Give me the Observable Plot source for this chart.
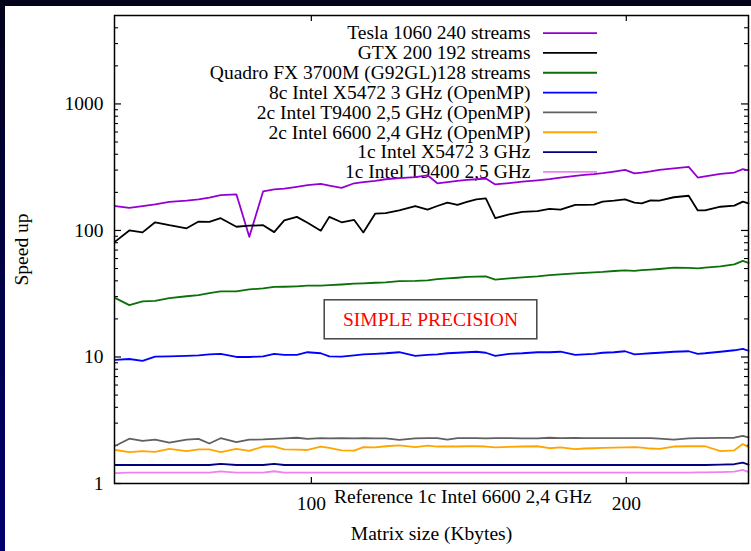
<!DOCTYPE html>
<html><head><meta charset="utf-8">
<script src="https://cdn.jsdelivr.net/npm/d3@7"></script>
<script src="https://cdn.jsdelivr.net/npm/@observablehq/plot@0.6"></script>
<style>
html,body{margin:0;padding:0;background:#fff;}
#wrap{position:relative;width:751px;height:551px;overflow:hidden;background:#fff;}
#topband{position:absolute;left:0;top:0;width:751px;height:6px;background:#03031a;z-index:2}
#leftband{position:absolute;left:0;top:0;width:5px;height:551px;background:linear-gradient(to bottom,#03031a,#000070);z-index:2}
#chart svg{display:block}
</style></head><body>
<div id="wrap"><div id="chart"></div><div id="topband"></div><div id="leftband"></div></div>
<script>
// ---- data ----
const matrixSizeKB = [37.8, 42.2, 46.4, 50.4, 54.9, 60.4, 64.2, 67.6, 71.2, 76.2, 80.3, 84.7, 88.2, 91.4, 95.4, 98.8, 103.0, 105.7, 109.6, 113.6, 116.5, 120.3, 123.6, 127.9, 133.0, 136.9, 140.0, 143.2, 146.4, 149.4, 152.4, 155.4, 158.4, 162.8, 167.0, 171.8, 175.6, 179.1, 183.8, 186.7, 189.7, 192.5, 196.1, 199.6, 202.6, 204.9, 207.7, 210.5, 215.1, 219.8, 222.7, 225.0, 229.9, 234.3, 237.0, 238.8];

const tesla1060 = [156,151,156,161,168,172,176,182,190,193,89,204,211,214,221,228,233,226,217,236,241,247,254,259,264,273,236,241,247,251,254,257,231,237,243,249,255,262,270,275,279,284,292,301,283,287,293,301,310,318,262,268,280,287,305,299];
const gtx200 = [82,100,96.5,116,110,104,117.6,117,125,107,109,110,97,120,128,115,99.6,128,116,121,96.5,136,137,144,156,146,156,166,159,168,176,179,125,134,140,142,148,146,159,159.5,160,169,172,176,166,164,173,172,183,188,144,144,154,157,169,164];
const quadroFX = [29.2,25.7,27.5,27.8,29.2,30.2,30.8,32.0,33.0,33.0,34.2,34.9,35.8,35.9,36.2,36.6,36.7,37.0,37.4,38.0,38.2,38.6,38.9,39.7,39.9,40.3,41.2,41.8,42.3,42.9,43.1,43.4,40.8,41.8,42.6,43.4,44.3,45.0,45.8,46.2,46.6,47.0,47.8,48.4,48.0,48.5,49.0,49.6,50.8,50.6,50.1,50.8,52.1,54.0,57.5,55.4];
const x5472_8c = [9.5,9.64,9.3,10.05,10.1,10.2,10.3,10.5,10.6,10.0,10.0,10.1,10.6,10.4,10.4,10.9,10.7,10.1,10.05,10.3,10.5,10.6,10.7,10.9,10.2,10.4,10.5,10.7,10.8,10.9,11.0,10.8,10.2,10.6,10.7,10.9,10.9,11.0,10.4,10.5,10.6,10.8,10.9,11.1,10.5,10.6,10.7,10.8,11.0,11.1,10.6,10.7,11.0,11.3,11.6,11.2];
const t9400_2c = [1.99,2.26,2.17,2.22,2.10,2.22,2.25,2.07,2.28,2.12,2.22,2.23,2.25,2.27,2.30,2.25,2.28,2.27,2.28,2.27,2.28,2.27,2.27,2.21,2.27,2.28,2.28,2.22,2.28,2.28,2.28,2.27,2.28,2.28,2.27,2.27,2.30,2.28,2.29,2.28,2.28,2.28,2.28,2.28,2.28,2.28,2.28,2.26,2.22,2.27,2.28,2.28,2.29,2.30,2.38,2.32];
const i6600_2c = [1.84,1.77,1.80,1.78,1.88,1.80,1.86,1.86,1.77,1.88,1.81,1.96,1.96,1.86,1.85,1.84,1.96,1.91,1.83,1.82,1.94,1.93,1.97,2.00,1.94,1.99,1.96,1.96,1.96,1.97,1.97,1.96,1.93,1.95,1.96,1.97,1.90,1.93,1.87,1.89,1.90,1.91,1.92,1.93,1.94,1.92,1.89,1.88,1.96,1.97,1.97,1.97,1.80,1.83,2.05,1.93];
const x5472_1c = [1.40,1.40,1.40,1.40,1.40,1.40,1.40,1.40,1.43,1.40,1.40,1.40,1.43,1.40,1.40,1.40,1.40,1.40,1.40,1.40,1.40,1.40,1.40,1.40,1.40,1.40,1.40,1.40,1.40,1.40,1.40,1.40,1.40,1.40,1.40,1.40,1.40,1.40,1.40,1.40,1.40,1.40,1.40,1.40,1.40,1.40,1.40,1.40,1.40,1.40,1.40,1.40,1.41,1.42,1.46,1.41];
const t9400_1c = [1.21,1.22,1.22,1.22,1.22,1.22,1.22,1.22,1.245,1.22,1.22,1.22,1.25,1.22,1.22,1.22,1.22,1.22,1.22,1.22,1.22,1.22,1.22,1.22,1.22,1.22,1.22,1.22,1.22,1.22,1.22,1.22,1.22,1.22,1.22,1.22,1.22,1.22,1.22,1.22,1.22,1.22,1.22,1.22,1.22,1.22,1.22,1.22,1.22,1.22,1.225,1.225,1.23,1.24,1.28,1.23];

const seriesNames = [
  "Tesla 1060 240 streams",
  "GTX 200 192 streams",
  "Quadro FX 3700M (G92GL)128 streams",
  "8c Intel X5472 3 GHz (OpenMP)",
  "2c Intel T9400 2,5 GHz (OpenMP)",
  "2c Intel 6600 2,4 GHz (OpenMP)",
  "1c Intel X5472 3 GHz",
  "1c Intel T9400 2,5 GHz"
];
const seriesColors = ["#9400d3","#000000","#0a700a","#0000ff","#606060","#ffa500","#000080","#ee82ee"];
const yTicks = [1, 10, 100, 1000];
const yMinorTicks = [2,3,4,5,6,7,8,9,20,30,40,50,60,70,80,90,200,300,400,500,600,700,800,900,2000,3000,4000];
const xTicks = [100, 200];
const xLabel = "Matrix size (Kbytes)";
const yLabel = "Speed up";
const refLabel = "Reference 1c Intel 6600 2,4 GHz";
const boxLabel = "SIMPLE PRECISION";

// ---- build ----
const seriesValues = [tesla1060, gtx200, quadroFX, x5472_8c, t9400_2c, i6600_2c, x5472_1c, t9400_1c];
const rows = seriesNames.flatMap((name, i) => matrixSizeKB.map((x, j) => ({series: name, x, y: seriesValues[i][j]})));

const W = 751, H = 551, ML = 114, MR = 3, MT = 15, MB = 68;
const xDomain = [37.5, 238.8], yDomain = [1, 5000];
const PW = W - ML - MR, PH = H - MT - MB;
const FONT = "'Liberation Serif','Times New Roman',Times,serif";
const FS = 19.5;
// pixel -> data helpers matching Plot's scales (for legend placement)
const px = d3.scaleLinear().domain(xDomain).range([ML, W - MR]);
const py = d3.scaleLog().domain(yDomain).range([H - MB, MT]);
const legendRowY = i => 32.6 + i * 19.83;

const chart = Plot.plot({
  width: W, height: H,
  marginLeft: ML, marginRight: MR, marginTop: MT, marginBottom: MB,
  style: {background: "#fff", fontFamily: FONT, fontSize: FS + "px", color: "#000"},
  x: {domain: xDomain, label: null},
  y: {type: "log", domain: yDomain, label: null},
  color: {domain: seriesNames, range: seriesColors},
  marks: [
    // inward ticks, left & right
    Plot.tickY(yTicks, {y: d => d, insetRight: PW - 7, stroke: "#000", strokeWidth: 1.2}),
    Plot.tickY(yMinorTicks, {y: d => d, insetRight: PW - 4, stroke: "#000", strokeWidth: 1.1}),
    Plot.tickY(yTicks, {y: d => d, insetLeft: PW - 7, stroke: "#000", strokeWidth: 1.2}),
    Plot.tickY(yMinorTicks, {y: d => d, insetLeft: PW - 4, stroke: "#000", strokeWidth: 1.1}),
    // inward ticks, bottom & top
    Plot.tickX(xTicks, {x: d => d, insetTop: PH - 6, stroke: "#000", strokeWidth: 1.2}),
    Plot.tickX(xTicks, {x: d => d, insetBottom: PH - 6, stroke: "#000", strokeWidth: 1.2}),
    // legend
    Plot.text(seriesNames, {x: px.invert(530), y: (d, i) => py.invert(legendRowY(i)), text: d => d,
      textAnchor: "end", lineAnchor: "middle", fontSize: FS, fontFamily: FONT, fill: "#000"}),
    Plot.ruleY(seriesNames, {y: (d, i) => py.invert(legendRowY(i)), x1: px.invert(543), x2: px.invert(597),
      stroke: d => d, strokeWidth: 1.8}),
    // series
    Plot.line(rows, {x: "x", y: "y", z: "series", stroke: "series", strokeWidth: 1.8}),
    // frame
    Plot.frame({stroke: "#000", strokeWidth: 1.5}),
    // annotation box
    Plot.frame({insetLeft: 323.7 - ML, insetRight: (W - MR) - 536.3, insetTop: 299.3 - MT, insetBottom: (H - MB) - 338.3,
      stroke: "#444", strokeWidth: 1.5, fill: "none"}),
    Plot.text([boxLabel], {frameAnchor: "top-left", dx: 430 - ML, dy: 319 - MT, text: d => d,
      textAnchor: "middle", lineAnchor: "middle", fill: "#ff0000", fontSize: FS, fontFamily: FONT}),
    // axes labels
    Plot.axisY({ticks: yTicks, tickSize: 0, tickPadding: 11, tickFormat: d => String(d), fontSize: FS, fontFamily: FONT, label: null}),
    Plot.axisX({ticks: xTicks, tickSize: 0, tickPadding: 13, tickFormat: d => String(d), fontSize: FS, fontFamily: FONT, label: null}),
    Plot.text([refLabel], {frameAnchor: "bottom-left", dx: 462.3 - ML, dy: 496 - (H - MB), text: d => d,
      textAnchor: "middle", lineAnchor: "middle", fontSize: FS, fontFamily: FONT, fill: "#000"}),
    Plot.text([xLabel], {frameAnchor: "bottom", dy: 533 - (H - MB), text: d => d,
      textAnchor: "middle", lineAnchor: "middle", fontSize: FS, fontFamily: FONT, fill: "#000"}),
    Plot.text([yLabel], {frameAnchor: "left", dx: 21.5 - ML, text: d => d, rotate: -90,
      textAnchor: "middle", lineAnchor: "middle", fontSize: FS, fontFamily: FONT, fill: "#000"})
  ]
});
document.getElementById("chart").appendChild(chart);
</script>
</body></html>
